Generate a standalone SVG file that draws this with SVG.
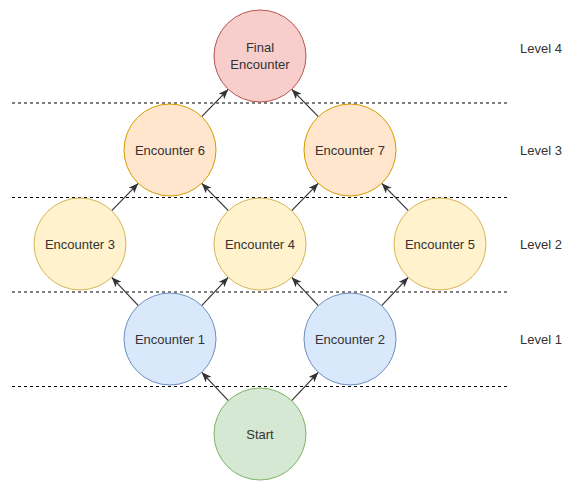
<svg xmlns="http://www.w3.org/2000/svg" width="563" height="483" viewBox="0 0 563 483">
<style>
text{font-family:"Liberation Sans",Arial,sans-serif;font-size:13px;fill:#333;text-anchor:middle}
.lv{text-anchor:start}
.dash{stroke:#000;stroke-width:1;stroke-dasharray:3 3;fill:none}
.edge{stroke:#333;stroke-width:1.2;fill:none;marker-end:url(#arr)}
.red{fill:#f8cecc;stroke:#b85450}
.orange{fill:#ffe6cc;stroke:#d79b00}
.yellow{fill:#fff2cc;stroke:#d6b656}
.blue{fill:#dae8fc;stroke:#6c8ebf}
.green{fill:#d5e8d4;stroke:#82b366}
circle{stroke-width:1}
</style>
<defs>
<marker id="arr" markerUnits="userSpaceOnUse" markerWidth="12" markerHeight="10" refX="10" refY="4" orient="auto">
<path d="M0,0 L10,4 L0,8 L2.5,4 Z" fill="#333"/>
</marker>
</defs>
<rect width="563" height="483" fill="#fff"/>
<g id="levels">
<line class="dash" x1="12" y1="103" x2="508" y2="103"/>
<line class="dash" x1="12" y1="197.5" x2="508" y2="197.5"/>
<line class="dash" x1="12" y1="292" x2="508" y2="292"/>
<line class="dash" x1="12" y1="386.5" x2="508" y2="386.5"/>
<text class="lv" x="520" y="53">Level 4</text>
<text class="lv" x="520" y="155">Level 3</text>
<text class="lv" x="520" y="249">Level 2</text>
<text class="lv" x="520" y="344">Level 1</text>
</g>
<g id="connectors">
<line class="edge" x1="228.3" y1="400.7" x2="201.7" y2="372.3"/>
<line class="edge" x1="291.7" y1="400.7" x2="318.3" y2="372.3"/>
<line class="edge" x1="138.3" y1="305.7" x2="111.7" y2="277.3"/>
<line class="edge" x1="201.7" y1="305.7" x2="228.3" y2="277.3"/>
<line class="edge" x1="318.3" y1="305.7" x2="291.7" y2="277.3"/>
<line class="edge" x1="381.7" y1="305.7" x2="408.3" y2="277.3"/>
<line class="edge" x1="111.7" y1="210.7" x2="138.3" y2="183.3"/>
<line class="edge" x1="228.3" y1="210.7" x2="201.7" y2="183.3"/>
<line class="edge" x1="291.7" y1="210.7" x2="318.3" y2="183.3"/>
<line class="edge" x1="408.3" y1="210.7" x2="381.7" y2="183.3"/>
<line class="edge" x1="201.7" y1="116.7" x2="228.3" y2="89.3"/>
<line class="edge" x1="318.3" y1="116.7" x2="291.7" y2="89.3"/>
</g>
<g id="final"><circle class="red" cx="260" cy="56" r="46"/><text x="260" y="52">Final</text><text x="260" y="69">Encounter</text></g>
<g id="enc6"><circle class="orange" cx="170" cy="150" r="46"/><text x="170" y="155">Encounter 6</text></g>
<g id="enc7"><circle class="orange" cx="350" cy="150" r="46"/><text x="350" y="155">Encounter 7</text></g>
<g id="enc3"><circle class="yellow" cx="80" cy="244" r="46"/><text x="80" y="249">Encounter 3</text></g>
<g id="enc4"><circle class="yellow" cx="260" cy="244" r="46"/><text x="260" y="249">Encounter 4</text></g>
<g id="enc5"><circle class="yellow" cx="440" cy="244" r="46"/><text x="440" y="249">Encounter 5</text></g>
<g id="enc1"><circle class="blue" cx="170" cy="339" r="46"/><text x="170" y="344">Encounter 1</text></g>
<g id="enc2"><circle class="blue" cx="350" cy="339" r="46"/><text x="350" y="344">Encounter 2</text></g>
<g id="start"><circle class="green" cx="260" cy="434" r="46"/><text x="260" y="439">Start</text></g>
</svg>
